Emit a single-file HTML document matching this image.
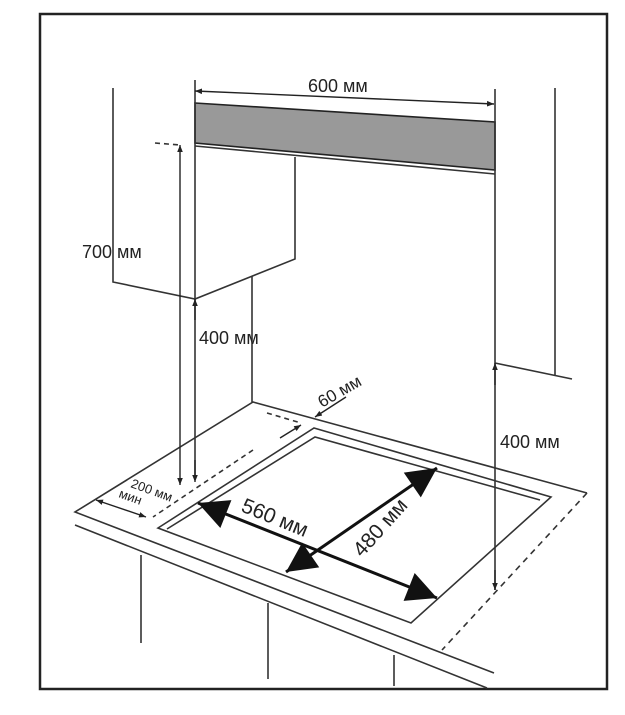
<!DOCTYPE html>
<html><head><meta charset="utf-8"><style>
html,body{margin:0;padding:0;background:#fff;}
svg{display:block}
text{font-family:"Liberation Sans",Arial,sans-serif;fill:#222;}
</style></head><body>
<svg width="625" height="715" viewBox="0 0 625 715" xmlns="http://www.w3.org/2000/svg">
<defs>
<marker id="sa" viewBox="0 0 10 10" refX="10" refY="5" markerWidth="7" markerHeight="7" orient="auto-start-reverse" markerUnits="userSpaceOnUse"><path d="M0,1 L10,5 L0,9 z" fill="#222"/></marker>
<marker id="ba" viewBox="0 0 10 10" refX="10" refY="5" markerWidth="38" markerHeight="30" orient="auto-start-reverse" markerUnits="userSpaceOnUse"><path d="M0,0 L10,5 L0,10 z" fill="#111"/></marker>
</defs>
<rect x="40" y="14" width="567" height="675" fill="none" stroke="#222" stroke-width="2.5"/>
<g stroke="#333" stroke-width="1.6" fill="none">
<polygon points="195,103 495,122 495,170 195,143" fill="#999" stroke="#222"/>
<line x1="195" y1="146" x2="495" y2="174"/>
<line x1="195" y1="80" x2="195" y2="480"/>
<line x1="495" y1="89" x2="495" y2="590"/>
<line x1="555" y1="88" x2="555" y2="375"/>
<polyline points="495,363 572,379"/>
<polyline points="113,88 113,282 195,299 295,259 295,157"/>
<line x1="252" y1="276" x2="252" y2="402"/>
<line x1="155" y1="143" x2="180" y2="145" stroke-dasharray="5,4"/>
<polyline points="587,493 253,402 75,512 494,673"/>
<line x1="75" y1="525" x2="487" y2="688"/>
<line x1="587" y1="493" x2="442" y2="650" stroke-dasharray="6,5"/>
<line x1="141" y1="555" x2="141" y2="643"/>
<line x1="268" y1="603" x2="268" y2="679"/>
<line x1="394" y1="655" x2="394" y2="686"/>
<polygon points="314,428 551,497 411,623 158,528"/>
<polyline points="167,529 315,437 540,500"/>
<line x1="267" y1="413" x2="301" y2="423" stroke-dasharray="5,4"/>
<line x1="253" y1="450" x2="153" y2="517" stroke-dasharray="5,4"/>
</g>
<g stroke="#222" stroke-width="1.4" fill="none">
<line x1="195" y1="91" x2="494" y2="104" marker-start="url(#sa)" marker-end="url(#sa)"/>
<line x1="180" y1="145" x2="180" y2="485" marker-start="url(#sa)" marker-end="url(#sa)"/>
<line x1="195" y1="299" x2="195" y2="320" marker-start="url(#sa)"/>
<line x1="195" y1="460" x2="195" y2="482" marker-end="url(#sa)"/>
<line x1="495" y1="363" x2="495" y2="385" marker-start="url(#sa)"/>
<line x1="495" y1="570" x2="495" y2="590" marker-end="url(#sa)"/>
<line x1="346" y1="397" x2="315" y2="417" marker-end="url(#sa)"/>
<line x1="280" y1="438" x2="301" y2="425" marker-end="url(#sa)"/>
<line x1="96" y1="500" x2="146" y2="517" marker-start="url(#sa)" marker-end="url(#sa)"/>
</g>
<g stroke="#111" stroke-width="3" fill="none">
<line x1="198" y1="503" x2="437" y2="598" marker-start="url(#ba)" marker-end="url(#ba)"/>
<line x1="437" y1="468" x2="286" y2="572" marker-start="url(#ba)" marker-end="url(#ba)"/>
</g>
<text x="308" y="92" font-size="18">600 мм</text>
<text x="82" y="258" font-size="18">700 мм</text>
<text x="199" y="344" font-size="18">400 мм</text>
<text x="500" y="448" font-size="18">400 мм</text>
<text transform="translate(322,408) rotate(-30)" font-size="17">60 мм</text>
<text transform="translate(130,487) rotate(20)" font-size="13">200 мм</text>
<text transform="translate(118,497) rotate(20)" font-size="13">мин</text>
<text transform="translate(240,511) rotate(22)" font-size="21">560 мм</text>
<text transform="translate(362,558) rotate(-48)" font-size="21">480 мм</text>
</svg>
</body></html>
